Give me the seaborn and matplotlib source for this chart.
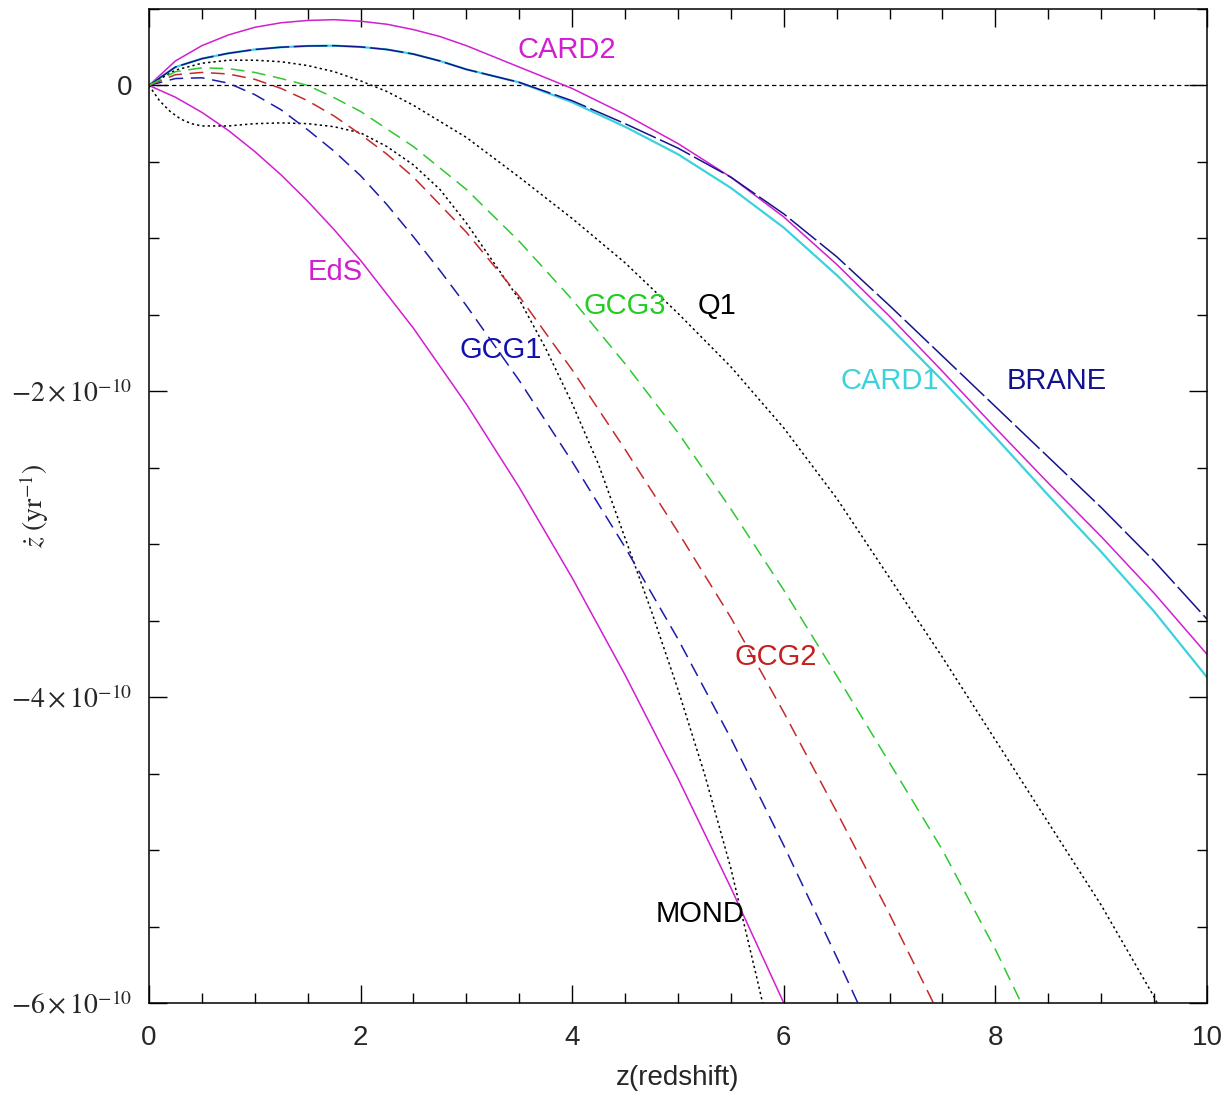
import numpy as np
import pandas as pd
import matplotlib
matplotlib.use("Agg")
import matplotlib.pyplot as plt
import seaborn as sns
from matplotlib.ticker import MultipleLocator, FixedLocator, FixedFormatter

# redshift drift curves, y in units of 1e-10 yr^-1
Z_EDS = [0, 0.25, 0.5, 0.75, 1, 1.25, 1.5, 1.75, 2, 2.5, 3, 3.5, 4, 4.5, 5, 5.5, 6, 6.1]
DZ_EDS = [0, -0.077, -0.176, -0.294, -0.432, -0.586, -0.757, -0.943, -1.144, -1.588,
          -2.084, -2.629, -3.22, -3.855, -4.531, -5.247, -6.0, -6.16]

Z_CARD = [0, 0.25, 0.5, 0.75, 1, 1.25, 1.5, 1.75, 2, 2.25, 2.5, 2.75, 3, 3.5, 4, 4.5,
          5, 5.5, 6, 6.5, 7, 7.5, 8, 8.5, 9, 9.5, 10]
DZ_CARD2 = [0, 0.16, 0.26, 0.33, 0.38, 0.41, 0.425, 0.43, 0.42, 0.40, 0.365, 0.32, 0.26,
            0.12, -0.02, -0.19, -0.38, -0.60, -0.86, -1.17, -1.51, -1.87, -2.24, -2.60,
            -2.95, -3.32, -3.72]
DZ_CARD1 = [0, 0.12, 0.175, 0.21, 0.235, 0.25, 0.258, 0.26, 0.252, 0.235, 0.205, 0.16,
            0.105, 0.02, -0.11, -0.27, -0.45, -0.67, -0.93, -1.24, -1.58, -1.93, -2.30,
            -2.68, -3.05, -3.44, -3.87]
DZ_BRANE = [0, 0.12, 0.175, 0.21, 0.235, 0.25, 0.258, 0.26, 0.252, 0.235, 0.205, 0.16,
            0.105, 0.02, -0.10, -0.25, -0.41, -0.60, -0.84, -1.12, -1.44, -1.77, -2.10,
            -2.43, -2.76, -3.11, -3.49]

Z_Q1 = [0, 0.25, 0.5, 0.75, 1, 1.25, 1.5, 1.75, 2, 2.25, 2.5, 3, 3.5, 4, 4.5, 5, 5.5,
        6, 6.5, 7, 7.5, 8, 8.5, 9, 9.5, 9.6]
DZ_Q1 = [0, 0.10, 0.145, 0.165, 0.165, 0.155, 0.13, 0.09, 0.03, -0.04, -0.13, -0.34,
         -0.60, -0.87, -1.16, -1.49, -1.84, -2.24, -2.70, -3.22, -3.74, -4.28, -4.82,
         -5.36, -5.96, -6.1]

Z_MOND = [0, 0.1, 0.2, 0.3, 0.4, 0.5, 0.75, 1, 1.25, 1.5, 1.75, 2, 2.25, 2.5, 2.75, 3,
          3.25, 3.5, 3.75, 4, 4.25, 4.5, 4.75, 5, 5.25, 5.5, 5.75, 5.85]
DZ_MOND = [0, -0.10, -0.17, -0.22, -0.25, -0.265, -0.265, -0.25, -0.245, -0.25, -0.27,
           -0.31, -0.40, -0.52, -0.68, -0.90, -1.15, -1.40, -1.72, -2.08, -2.48, -2.96,
           -3.44, -3.95, -4.50, -5.12, -5.85, -6.15]

Z_GCG1 = [0, 0.25, 0.5, 0.75, 1, 1.25, 1.5, 1.75, 2, 2.25, 2.5, 2.75, 3, 3.5, 4, 4.5,
          5, 5.5, 6, 6.5, 6.8]
DZ_GCG1 = [0, 0.045, 0.05, 0.015, -0.06, -0.16, -0.29, -0.43, -0.59, -0.78, -0.99,
           -1.21, -1.44, -1.93, -2.46, -3.02, -3.62, -4.27, -4.97, -5.70, -6.15]

Z_GCG2 = [0, 0.25, 0.5, 0.75, 1, 1.25, 1.5, 1.75, 2, 2.25, 2.5, 3, 3.5, 4, 4.5, 5, 5.5,
          6, 6.5, 7, 7.5]
DZ_GCG2 = [0, 0.07, 0.085, 0.075, 0.04, -0.02, -0.10, -0.20, -0.32, -0.45, -0.60, -0.96,
           -1.38, -1.86, -2.38, -2.92, -3.48, -4.10, -4.75, -5.42, -6.12]

Z_GCG3 = [0, 0.25, 0.5, 0.75, 1, 1.25, 1.5, 1.75, 2, 2.5, 3, 3.5, 4, 4.5, 5, 5.5, 6,
          6.5, 7, 7.5, 8, 8.3]
DZ_GCG3 = [0, 0.09, 0.115, 0.11, 0.085, 0.045, 0.0, -0.08, -0.17, -0.40, -0.68, -1.02,
           -1.40, -1.82, -2.27, -2.77, -3.30, -3.86, -4.43, -5.0, -5.65, -6.08]

LABELS = ["CARD2", "EdS", "GCG1", "GCG3", "Q1", "CARD1", "BRANE", "GCG2", "MOND"]

MAG = "#d11ed1"
CYAN = "#3cd2dc"

sns.set_style("ticks")
plt.rcParams["font.family"] = ["Liberation Sans", "DejaVu Sans"]
plt.rcParams["mathtext.fontset"] = "stix"

fig = plt.figure(figsize=(12.27, 10.94), dpi=100)
ax = fig.add_axes([0.1214, 0.0832, 0.8623, 0.9086])

# zero reference line
zero = sns.lineplot(x=[0, 10], y=[0, 0], ax=ax, color="black", lw=0.9)
zero.lines[-1].set_dashes((3.5, 2.5))


def draw(z, dz, color, dashes=None, lw=1.1):
    sns.lineplot(x=z, y=np.array(dz) * 1e-10, ax=ax, color=color, lw=lw,
                 estimator=None, sort=False)
    if dashes is not None:
        ax.lines[-1].set_dashes(dashes)


draw(Z_EDS, DZ_EDS, MAG)
draw(Z_CARD, DZ_CARD2, MAG)
draw(Z_CARD, DZ_CARD1, CYAN, lw=1.6)
draw(Z_CARD, DZ_BRANE, "#14148c", dashes=(22, 3))
draw(Z_Q1, DZ_Q1, "black", dashes=(1.5, 2))
draw(Z_MOND, DZ_MOND, "black", dashes=(1.5, 2))
draw(Z_GCG1, DZ_GCG1, "#1c1ca8", dashes=(9, 5))
draw(Z_GCG2, DZ_GCG2, "#c42a2a", dashes=(9, 5))
draw(Z_GCG3, DZ_GCG3, "#2fc92f", dashes=(9, 5))

ax.set_xlim(0, 10)
ax.set_ylim(-6e-10, 0.5e-10)

# curve labels
lab_pos = {
    "CARD2": (3.95, 0.23, MAG),
    "EdS": (1.76, -1.22, MAG),
    "GCG1": (3.32, -1.73, "#1010b0"),
    "GCG3": (4.5, -1.44, "#22cc22"),
    "Q1": (5.37, -1.44, "black"),
    "CARD1": (7.0, -1.93, CYAN),
    "BRANE": (8.58, -1.93, "#12128e"),
    "GCG2": (5.92, -3.74, "#c42020"),
    "MOND": (5.21, -5.42, "black"),
}
for name in LABELS:
    x, y, c = lab_pos[name]
    ax.text(x, y * 1e-10, name, color=c, fontsize=21, ha="center", va="center")

# ticks
ax.xaxis.set_major_locator(MultipleLocator(2))
ax.xaxis.set_minor_locator(MultipleLocator(0.5))
ax.yaxis.set_major_locator(FixedLocator([-6e-10, -4e-10, -2e-10, 0]))
ax.yaxis.set_minor_locator(MultipleLocator(0.5e-10))
ax.yaxis.set_major_formatter(FixedFormatter([r"$-6\times10^{-10}$", r"$-4\times10^{-10}$",
                                             r"$-2\times10^{-10}$", "0"]))
ax.tick_params(which="both", direction="in", top=True, right=True, width=1.0,
               color="black")
ax.tick_params(which="major", length=13)
ax.tick_params(which="minor", length=7)
ax.tick_params(axis="x", labelsize=20, pad=16)
ax.tick_params(axis="y", labelsize=20, pad=12)
for sp in ax.spines.values():
    sp.set_linewidth(1.1)
    sp.set_color("black")

ax.set_xlabel("z(redshift)", fontsize=20, labelpad=10)
ax.set_ylabel(r"$\dot{z}\ (\mathrm{yr}^{-1})$", fontsize=20)
ax.yaxis.set_label_coords(-0.093, 0.5)

fig.savefig("out.png", dpi=100)
